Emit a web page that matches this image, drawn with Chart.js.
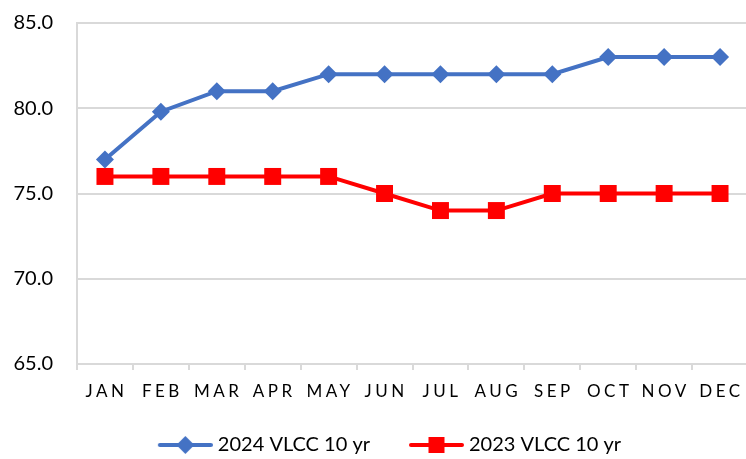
<!DOCTYPE html>
<html>
<head>
<meta charset="utf-8">
<script src="https://cdn.jsdelivr.net/npm/chart.js@4"></script>
<style>
html, body { margin: 0; padding: 0; background: #fff; overflow: hidden; }
#wrap { width: 748px; height: 459px; }
</style>
</head>
<body>
<div id="wrap"><canvas id="chart"></canvas></div>
<script>
var months = ["JAN", "FEB", "MAR", "APR", "MAY", "JUN", "JUL", "AUG", "SEP", "OCT", "NOV", "DEC"];
var vlcc2024 = [77, 79.8, 81, 81, 82, 82, 82, 82, 82, 83, 83, 83];
var vlcc2023 = [76, 76, 76, 76, 76, 75, 74, 74, 75, 75, 75, 75];
var yTicks = [65, 70, 75, 80, 85];

var BLUE = "#4472C4";
var RED = "#FF0000";
var FONT = "Lato, 'Liberation Sans', sans-serif";
var SWATCH_GAP = 33; // blank space left of each legend swatch, acts as the gap between items
var BOX_W = SWATCH_GAP + 50;

// legend swatch: line with marker in the middle, like Excel.
// canvas is 10px wider than the legend box so the line reaches close to the text
function legendSwatch(color, style) {
    var c = document.createElement("canvas");
    c.width = BOX_W + 10;
    c.height = 20;
    var ctx = c.getContext("2d");
    ctx.translate(SWATCH_GAP, 0);
    ctx.strokeStyle = color;
    ctx.fillStyle = color;
    ctx.lineWidth = 4;
    ctx.lineCap = "round";
    ctx.beginPath();
    ctx.moveTo(7, 10);
    ctx.lineTo(58, 10);
    ctx.stroke();
    var cx = 32.5;
    ctx.beginPath();
    if (style === "diamond") {
        ctx.moveTo(cx, 1);
        ctx.lineTo(cx + 9, 10);
        ctx.lineTo(cx, 19);
        ctx.lineTo(cx - 9, 10);
    } else {
        ctx.rect(cx - 8, 2, 16, 16);
    }
    ctx.closePath();
    ctx.fill();
    return c;
}

// x labels are drawn by hand so they can get letter spacing
var spacedLabels = {
    id: "spacedLabels",
    afterDraw: function (chart) {
        var scale = chart.scales.x;
        var ctx = chart.ctx;
        ctx.save();
        ctx.font = "17px " + FONT;
        ctx.letterSpacing = "3.5px";
        ctx.fillStyle = "#000";
        ctx.textAlign = "center";
        ctx.textBaseline = "middle";
        for (var i = 0; i < months.length; i++) {
            ctx.fillText(months[i], scale.getPixelForTick(i) + 1.5, scale.top + 28);
        }
        ctx.restore();
    }
};

var swatches = [legendSwatch(BLUE, "diamond"), legendSwatch(RED, "square")];

var chart = new Chart(document.getElementById("chart"), {
    type: "line",
    data: {
        labels: months,
        datasets: [
            {
                label: "2024 VLCC 10 yr",
                data: vlcc2024,
                borderColor: BLUE,
                backgroundColor: BLUE,
                borderWidth: 4,
                pointStyle: "rectRot",
                pointRadius: 9,
                pointBorderWidth: 0,
                tension: 0
            },
            {
                label: "2023 VLCC 10 yr",
                data: vlcc2023,
                borderColor: RED,
                backgroundColor: RED,
                borderWidth: 4,
                pointStyle: "rect",
                pointRadius: 12,
                pointBorderWidth: 0,
                tension: 0
            }
        ]
    },
    options: {
        responsive: true,
        maintainAspectRatio: false,
        animation: false,
        layout: {
            autoPadding: false,
            padding: { left: -3, right: -1, top: 23, bottom: -6 }
        },
        plugins: {
            tooltip: { enabled: false },
            legend: {
                position: "bottom",
                labels: {
                    usePointStyle: true,
                    pointStyleWidth: BOX_W,
                    padding: 6,
                    color: "#000",
                    font: { family: FONT, size: 20 },
                    generateLabels: function (chart) {
                        return chart.data.datasets.map(function (ds, i) {
                            return {
                                text: ds.label,
                                pointStyle: swatches[i],
                                fillStyle: ds.borderColor,
                                strokeStyle: ds.borderColor,
                                lineWidth: 0,
                                fontColor: "#000",
                                hidden: false,
                                datasetIndex: i
                            };
                        });
                    }
                }
            }
        },
        scales: {
            x: {
                offset: true,
                afterFit: function (axis) { axis.height = 65; },
                grid: {
                    offset: true,
                    drawOnChartArea: false,
                    drawTicks: true,
                    tickLength: 6,
                    color: "#d9d9d9",
                    lineWidth: 2
                },
                border: { color: "#d9d9d9", width: 2 },
                ticks: {
                    color: "rgba(0,0,0,0)",
                    font: { family: FONT, size: 16 },
                    autoSkip: false,
                    maxRotation: 0,
                    padding: 8
                }
            },
            y: {
                min: 65,
                max: 85,
                afterFit: function (axis) {
                    axis.width = 80;
                    // tick padding should only push labels sideways, not shrink the plot
                    axis.paddingTop = 0;
                    axis.paddingBottom = 0;
                },
                afterBuildTicks: function (axis) {
                    axis.ticks = yTicks.map(function (v) { return { value: v }; });
                },
                grid: {
                    color: "#d9d9d9",
                    lineWidth: 2,
                    drawTicks: false
                },
                border: { color: "#d9d9d9", width: 2 },
                ticks: {
                    color: "#000",
                    font: { family: FONT, size: 20 },
                    padding: 24,
                    callback: function (v) { return Number(v).toFixed(1); }
                }
            }
        }
    },
    plugins: [spacedLabels]
});
</script>
</body>
</html>
